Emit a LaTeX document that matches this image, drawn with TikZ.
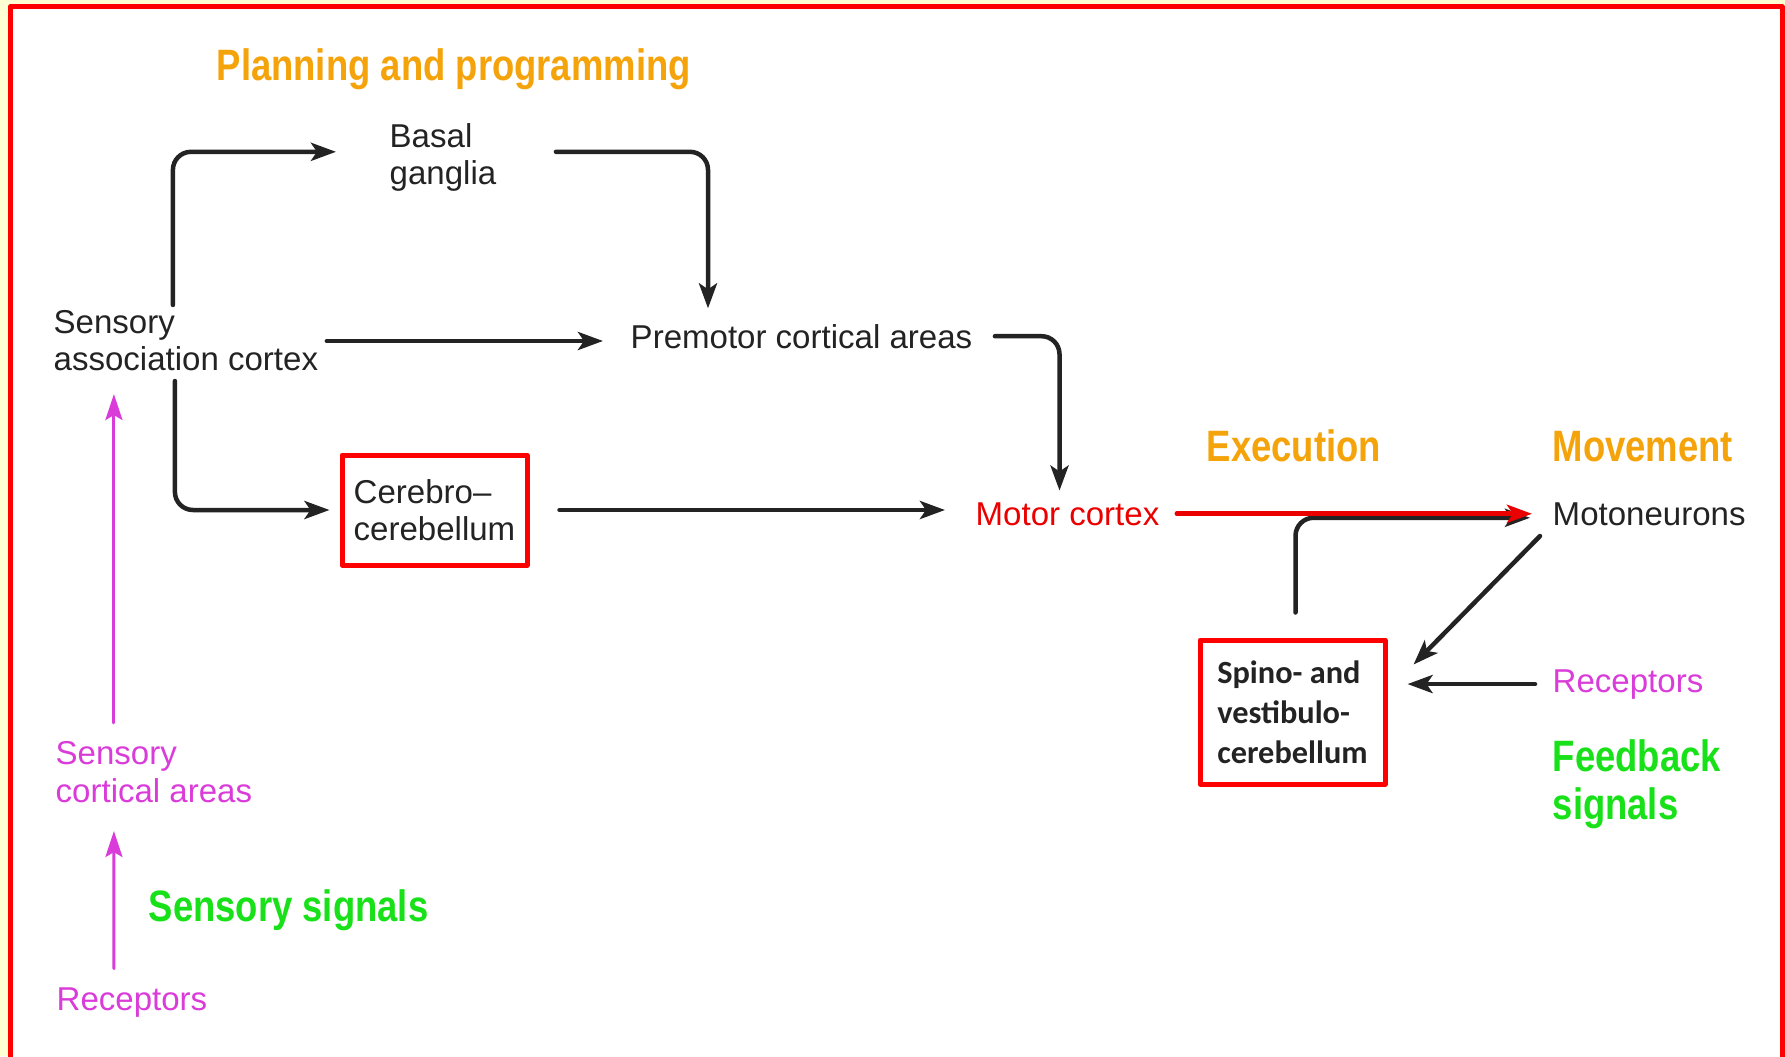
\documentclass[tikz,border=0pt]{standalone}
\usepackage{fontspec}
\setmainfont{Liberation Sans}
\newfontfamily\calibfont{Carlito}
\usepackage{graphicx}
\usetikzlibrary{arrows.meta}
\definecolor{headorange}{RGB}{245,163,10}
\definecolor{sigmagenta}{RGB}{218,60,218}
\definecolor{siggreen}{RGB}{25,225,25}
\definecolor{motorred}{RGB}{235,0,0}
\definecolor{txtgray}{RGB}{35,35,35}
\definecolor{paleyel}{RGB}{255,255,212}
\newcommand{\narrowtxt}[1]{\scalebox{0.83}[1]{#1}}
\begin{document}
\begin{tikzpicture}[line join=round, line cap=round, >={Stealth[length=2.5mm,width=1.8mm,inset=0.6mm]},
  lbl/.style={inner sep=0, anchor=base west, align=left, text=txtgray, font=\fontsize{9.4}{10.6}\selectfont},
  head/.style={inner sep=0, anchor=base west, align=left, font=\bfseries\fontsize{12.5}{13.6}\selectfont},
  redbox/.style={draw=red, line width=0.05cm, minimum width=1.85cm, anchor=center},
  arr/.style={->, line width=0.045cm, draw=txtgray, rounded corners=0.18cm},
  marr/.style={-{Stealth[length=2.6mm,width=1.7mm,inset=0.5mm]}, line width=0.03cm, sigmagenta}]
\useasboundingbox (0,0) rectangle (17.85,10.56);
\fill[paleyel] (0,0) rectangle (17.85,10.56);
\fill[white] (0.10,-0.1) rectangle (17.82,10.49);
\draw[red, line width=0.05cm] (0.10,-0.1) |- (17.82,10.49) -- (17.82,-0.1);
\node[head, headorange] (plan) at (2.16,9.75) {\narrowtxt{Planning and programming}};
\node[lbl] (bg) at (3.89,8.71) {Basal\\ganglia};
\node[lbl] (sac) at (0.53,6.85) {Sensory\\association cortex};
\node[lbl] (pm) at (6.30,7.08) {Premotor cortical areas};
\node[lbl, redbox, minimum height=1.1cm] (cc) at (4.345,5.46) {Cerebro--\\cerebellum};
\node[lbl, text=motorred] (mc) at (9.75,5.31) {Motor cortex};
\node[head, headorange] (exe) at (12.06,5.95) {\narrowtxt{Execution}};
\node[head, headorange] (mov) at (15.52,5.95) {\narrowtxt{Movement}};
\node[lbl] (mn) at (15.52,5.31) {Motoneurons};
\node[lbl, redbox, minimum height=1.44cm, font=\calibfont\bfseries\fontsize{9.2}{11.4}\selectfont] (sp) at (12.925,3.44) {Spino- and\\vestibulo-\\cerebellum};
\node[lbl, text=sigmagenta] (recR) at (15.52,3.64) {Receptors};
\node[head, siggreen] (fb) at (15.52,2.37) {\narrowtxt{Feedback}\\\narrowtxt{signals}};
\node[lbl, text=sigmagenta] (sca) at (0.55,2.54) {Sensory\\cortical areas};
\node[head, siggreen] (ss) at (1.48,1.35) {\narrowtxt{Sensory signals}};
\node[lbl, text=sigmagenta] (recL) at (0.56,0.46) {Receptors};
\draw[arr] ([shift={(-1.3mm,0.5mm)}]sac.north) |- ([shift={(-5.3mm,0.6mm)}]bg.west);
\draw[arr] ([shift={(5.9mm,0.6mm)}]bg.east) -| ([shift={(7.8mm,1.5mm)}]pm.north west);
\draw[arr] ([xshift=0.8mm]sac.east) -- ([xshift=-2.7mm]sac.east -| pm.west);
\draw[arr] ([shift={(-1.1mm,-0.9mm)}]sac.south) |- ([xshift=-1mm]cc.west);
\draw[arr] ([xshift=3mm]cc.east) -- ([xshift=-3mm]cc.east -| mc.west);
\draw[arr] ([xshift=2.2mm]pm.east) -| ([shift={(-0.8mm,1.1mm)}]mc.north);
\draw[arr] ([shift={(0.3mm,2.5mm)}]sp.north) |- ([shift={(-2.2mm,-0.4mm)}]mn.west);
\draw[->, line width=0.05cm, motorred] ([xshift=1.7mm]mc.east) -- ([xshift=-2mm]mc.east -| mn.west);
\draw[arr] ([shift={(-1.2mm,-1mm)}]mn.south west) -- ([shift={(2.6mm,-2.7mm)}]sp.north east);
\draw[arr] ([xshift=-1.7mm]recR.west) -- ([xshift=2mm]recR.west -| sp.east);
\draw[marr] ([shift={(-4mm,1.8mm)}]sca.north) -- ([shift={(-4mm,-2.2mm)}]sca.north |- sac.south);
\draw[marr] ([shift={(-1.8mm,1.8mm)}]recL.north) -- ([shift={(-4mm,-2.8mm)}]sca.south);
\end{tikzpicture}
\end{document}
